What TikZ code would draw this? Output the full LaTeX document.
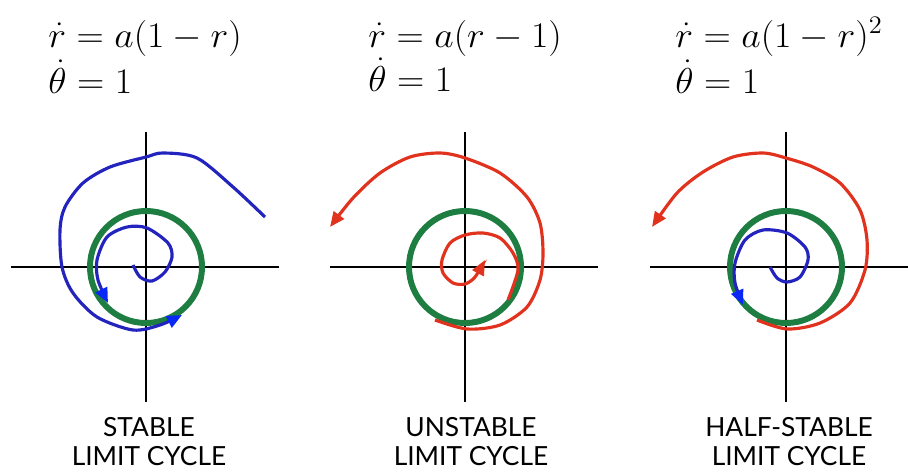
\RequirePackage{fix-cm}
\documentclass[tikz,border=0pt]{standalone}
\usepackage{fontspec}
\setsansfont{Lato}
\usetikzlibrary{arrows.meta}

\definecolor{cyclegreen}{RGB}{30,125,65}
\definecolor{flowblue}{RGB}{35,35,190}
\definecolor{tipblue}{RGB}{10,40,245}
\definecolor{flowred}{RGB}{225,50,30}

\begin{document}
\begin{tikzpicture}[x=0.02cm, y=0.02cm,
  axis/.style={line width=0.7pt},
  limitcycle/.style={line width=3.4pt, cyclegreen},
  blueflow/.style={line width=1.8pt, flowblue, -{Triangle[length=0.3cm,width=0.25cm,color=tipblue]}},
  redflow/.style={line width=1.8pt, flowred, -{Triangle[length=0.3cm,width=0.25cm]}},
  eq/.style={anchor=base west, inner sep=0pt, xscale=1.05, font=\fontsize{20.5}{24}\selectfont},
  caption/.style={align=center, inner sep=0pt, font=\sffamily\fontsize{15}{16.5}\selectfont}]

  \useasboundingbox (0,0) rectangle (908,471);

  % Equations
  \node[eq] (rstable)   at (48,424)  {$\dot r = a(1-r)$};
  \node[eq] (tstable)   at (48,378)  {$\dot\theta = 1$};
  \node[eq] (runstable) at (368,424) {$\dot r = a(r-1)$};
  \node[eq] (tunstable) at (368,380) {$\dot\theta = 1$};
  \node[eq] (rhalf)     at (675,424) {$\dot r = a(1-r)^2$};
  \node[eq] (thalf)     at (675,378) {$\dot\theta = 1$};

  % Stable limit cycle
  \begin{scope}[shift={(146,204)}]
    \draw[axis] (-135,0) -- (133,0);
    \draw[axis] (0,-135) -- (0,135);
    \draw[limitcycle] (0,0) circle (56);
    \draw[blueflow] plot[smooth] coordinates {(119,50) (87,80) (51,109) (17,114) (0,110) (-36,100)
      (-63,84) (-81,60) (-86,37) (-84,0) (-73,-26) (-49,-50) (-13,-63) (14,-58) (36,-48)};
    \draw[blueflow] plot[smooth] coordinates {(-13,2) (-6,-10) (6,-14) (19,-5) (26,10) (22,24)
      (1,39) (-19,40) (-39,30) (-49,7) (-48,-13) (-38,-36)};
  \end{scope}

  % Unstable limit cycle
  \begin{scope}[shift={(465,204)}]
    \draw[axis] (-135,0) -- (133,0);
    \draw[axis] (0,-135) -- (0,135);
    \draw[limitcycle] (0,0) circle (56);
    \draw[redflow] plot[smooth] coordinates {(-30,-53) (2,-62) (35,-58) (62,-40) (75,-13) (78,14)
      (75,44) (62,70) (35,94) (0,109) (-25,114) (-55,110) (-85,94) (-112,69) (-135,40)};
    \draw[redflow] plot[smooth] coordinates {(43,-33) (53,-3) (48,14) (35,29) (18,34) (0,32)
      (-15,24) (-23,7) (-22,-6) (-12,-16) (0,-17) (10,-10) (20,7)};
  \end{scope}

  % Half-stable limit cycle
  \begin{scope}[shift={(786,204)}]
    \draw[axis] (-136,0) -- (122,0);
    \draw[axis] (0,-135) -- (0,135);
    \draw[limitcycle] (0,0) circle (56);
    \draw[redflow] plot[smooth] coordinates {(-29,-53) (1,-62) (34,-56) (64,-36) (79,-3) (81,27)
      (74,57) (54,84) (27,100) (0,109) (-23,114) (-53,110) (-83,95) (-109,74) (-134,40)};
    \draw[blueflow] plot[smooth] coordinates {(-16,0) (-9,-11) (1,-15) (14,-10) (22,7) (19,20)
      (1,34) (-23,37) (-41,27) (-51,4) (-51,-16) (-43,-38)};
  \end{scope}

  % Captions
  \node[caption] (capstable)   at (149,29) {STABLE\\LIMIT CYCLE};
  \node[caption] (capunstable) at (471,29) {UNSTABLE\\LIMIT CYCLE};
  \node[caption] (caphalf)     at (789,29) {HALF-STABLE\\LIMIT CYCLE};
\end{tikzpicture}
\end{document}
